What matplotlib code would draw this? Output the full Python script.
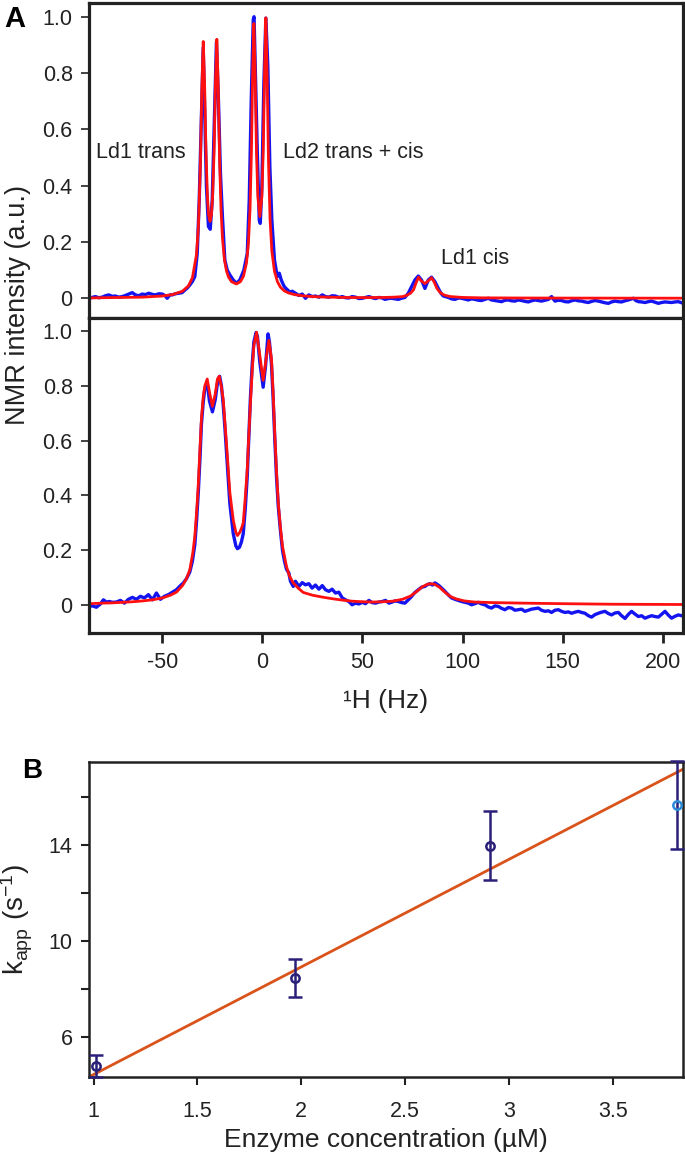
import matplotlib
matplotlib.use('Agg')
import matplotlib.pyplot as plt

plt.rcParams['font.family'] = ['Liberation Sans', 'DejaVu Sans']
plt.rcParams['mathtext.fontset'] = 'custom'
plt.rcParams['mathtext.rm'] = 'Liberation Sans'
plt.rcParams['mathtext.it'] = 'Liberation Sans:italic'

# ---- panel A, top spectrum (observed = blue, fit = red) ----
top_obs_x = [-86.8, -85.2, -83.5, -81.8, -80.1, -78.5, -76.8, -75.1, -73.5, -71.8, -70.1, -68.5,
             -66.8, -65.1, -63.5, -61.8, -60.1, -58.5, -56.8, -55.1, -53.5, -51.8, -50.1, -48.8,
             -47.6, -46.3, -45.1, -43.5, -41.8, -40.2, -38.8, -37.5, -36.3, -35.0, -33.8, -32.6,
             -31.6, -30.5, -29.6, -28.8, -28.0, -27.0, -26.1, -25.1, -24.1, -23.0, -22.0, -21.0,
             -20.0, -18.8, -17.6, -16.3, -14.6, -13.0, -11.3, -9.3, -7.6, -6.6, -5.6, -4.6, -4.2,
             -3.8, -2.6, -1.6, -1.1, -0.3, 0.7, 1.7, 2.7, 3.7, 4.7, 6.0, 7.4, 8.4, 9.4, 10.5,
             11.3, 12.5, 13.7, 14.9, 16.5, 18.2, 19.9, 21.5, 23.2, 24.8, 26.5, 28.2, 29.9, 31.5,
             33.2, 34.8, 36.5, 38.2, 39.9, 41.5, 43.2, 44.8, 46.5, 48.2, 49.9, 51.5, 53.2, 54.8,
             56.5, 58.2, 59.9, 61.2, 62.9, 64.5, 66.2, 67.9, 69.5, 71.2, 72.9, 74.5, 76.2, 77.9,
             79.5, 81.2, 82.9, 84.5, 86.2, 87.9, 89.2, 90.4, 92.9, 94.5, 96.2, 97.9, 99.5, 101.2,
             102.9, 104.5, 106.2, 107.9, 109.5, 111.2, 112.9, 114.5, 116.2, 117.9, 119.5, 121.2,
             122.9, 124.5, 126.2, 127.9, 129.5, 131.2, 132.9, 134.5, 136.2, 137.9, 139.5, 141.2,
             142.9, 144.5, 146.2, 147.9, 149.5, 151.2, 152.9, 154.5, 156.2, 157.9, 159.5, 161.2,
             162.9, 164.5, 166.2, 167.9, 169.5, 171.2, 172.9, 174.5, 176.2, 177.9, 179.5, 181.2,
             182.9, 184.2, 185.4, 186.6, 187.9, 189.5, 191.2, 192.9, 194.5, 196.2, 197.9, 199.5,
             201.2, 202.9, 204.5, 206.2, 207.9, 209.5, 211.2]
top_obs_y = [0.000, 0.003, 0.006, 0.002, 0.004, 0.009, 0.012, 0.007, 0.008, 0.004, 0.006, 0.010,
             0.015, 0.020, 0.012, 0.009, 0.015, 0.013, 0.018, 0.014, 0.012, 0.016, 0.015, 0.010,
             0.000, 0.012, 0.012, 0.016, 0.018, 0.020, 0.029, 0.037, 0.047, 0.060, 0.077, 0.159,
             0.350, 0.645, 0.890, 0.645, 0.396, 0.255, 0.245, 0.350, 0.610, 0.910, 0.704, 0.444,
             0.290, 0.136, 0.100, 0.083, 0.065, 0.053, 0.065, 0.100, 0.159, 0.350, 0.704, 0.990, 1.000,
             0.880, 0.527, 0.278, 0.266, 0.396, 0.763, 0.995, 0.822, 0.467, 0.278, 0.136, 0.077, 0.089, 0.065, 0.047,
             0.038, 0.030, 0.022, 0.025, 0.018, 0.010, 0.015, 0.000, 0.012, 0.006, 0.008, 0.004, 0.012, 0.006,
             0.004, 0.009, 0.008, 0.003, 0.006, 0.002, 0.001, 0.006, 0.004, -0.001, 0.000, 0.003, 0.006, 0.002,
             -0.001, 0.003, 0.001, -0.004, -0.001, 0.000, -0.002, -0.004, 0.000, 0.003, 0.018, 0.041, 0.065, 0.079,
             0.065, 0.035, 0.065, 0.075, 0.059, 0.035, 0.018, 0.008, 0.003, -0.002, -0.004, 0.001, 0.000, -0.003,
             -0.006, -0.002, -0.004, -0.007, -0.008, -0.004, 0.000, -0.006, -0.008, -0.010, -0.012, -0.007,
             -0.006, -0.009, -0.010, -0.006, -0.008, -0.011, -0.013, -0.009, -0.006, -0.008, -0.010, -0.007,
             -0.004, 0.006, -0.010, -0.007, -0.008, -0.012, -0.013, -0.009, -0.006, -0.009, -0.010, -0.013,
             -0.015, -0.011, -0.008, -0.010, -0.013, -0.016, -0.018, -0.013, -0.010, -0.012, -0.013, -0.009,
             -0.006, -0.003, 0.000, -0.008, -0.012, -0.013, -0.015, -0.012, -0.010, -0.014, -0.018, -0.015,
             -0.013, -0.014, -0.015, -0.013, -0.012, -0.016, -0.018]

top_fit_x = [-87, -80, -70, -60, -50, -45, -40, -37, -35, -33, -32, -31, -30.3, -29.6, -28.9,
             -28.2, -27.5, -26.9, -26.2, -25.5, -24.9, -24.2, -23.5, -22.8, -22.1, -21.4, -20.7,
             -20, -19, -18, -17, -15.5, -13, -11, -9.5, -8, -7, -6.2, -5.5, -4.9, -4.3, -3.7, -3,
             -2.3, -1.3, -0.3, 0.4, 1.1, 1.7, 2.3, 3, 3.8, 4.7, 6, 7.5, 9, 11, 13, 16, 20, 25, 30,
             40, 50, 60, 66, 70, 72, 74, 75.5, 76.8, 78, 79.3, 81.2, 83.2, 84.5, 85.8, 87.2, 89,
             91, 94, 100, 110, 130, 160, 211]
top_fit_y = [0.001, 0.002, 0.003, 0.004, 0.008, 0.013, 0.025, 0.044, 0.073, 0.154, 0.257, 0.480,
             0.740, 0.912, 0.755, 0.513, 0.360, 0.296, 0.273, 0.297, 0.363, 0.516, 0.761, 0.920,
             0.746, 0.487, 0.313, 0.214, 0.137, 0.098, 0.076, 0.059, 0.051, 0.059, 0.078, 0.125,
             0.197, 0.318, 0.526, 0.800, 0.976, 0.815, 0.524, 0.360, 0.290, 0.362, 0.529, 0.824,
             0.996, 0.808, 0.492, 0.280, 0.167, 0.096, 0.059, 0.039, 0.026, 0.019, 0.013, 0.009,
             0.006, 0.0045, 0.003, 0.0025, 0.0028, 0.004, 0.006, 0.010, 0.018, 0.030, 0.055, 0.075,
             0.062, 0.052, 0.064, 0.073, 0.058, 0.035, 0.019, 0.011, 0.006, 0.003, 0.0015, 0.001,
             0.0006, 0.0003]

# ---- panel A, bottom spectrum ----
bot_obs_x = [-86.8, -85, -83, -81, -79.5, -78, -76.5, -75, -73, -71, -69, -67, -65, -63, -61, -59,
             -57, -55, -53, -51, -49, -47, -45, -43, -41, -39.5, -38, -36.3, -35, -33.8, -32.9, -32,
             -31.2, -30.5, -29.6, -28.8, -27.6, -26.5, -25, -23.6, -22.3, -21.4, -20.5, -19.6, -18.7,
             -17.9, -16.3, -14.6, -13.3, -12.5, -11.5, -10.5, -9.6, -8.6, -7.6, -6.8, -6, -5.1, -4.3,
             -3.2, -2.5, -1.3, 0.35, 1.5, 2.8, 3.5, 4.5, 5.3, 6.2, 7, 7.9, 9, 10, 11, 12, 13.2, 14,
             15.4, 16.5, 18.2, 19.9, 21.5, 23.2, 24.8, 26.5, 28.2, 29.9, 31.5, 33.2, 34.8, 36.5, 38.2,
             39.9, 41.5, 43.2, 44.8, 46.5, 48.2, 49.9, 51.5, 53.2, 54.8, 56.5, 58.2, 59.9, 61.5, 63.2,
             64.5, 66.2, 67.9, 69.5, 71.2, 72.9, 74.5, 76.2, 77.9, 79.5, 81.2, 82.5, 83.7, 85, 86.2,
             87.5, 88.7, 90.4, 92, 93.2, 94.5, 96.2, 97.9, 99.5, 101.2, 102.9, 104.5, 106.2, 107.9,
             109.5, 111.2, 112.9, 114.5, 116.2, 117.9, 119.5, 121.2, 122.9, 124.5, 126.2, 127.9,
             129.5, 131.2, 132.9, 134.5, 136.2, 137.9, 139.5, 141.2, 142.9, 144.5, 146.2, 147.9,
             149.5, 151.2, 152.9, 154.5, 156.2, 157.9, 159.5, 161.2, 162.9, 164.5, 166.2, 167.9,
             169.5, 171.2, 172.9, 174.5, 176.2, 177.9, 179.5, 181.2, 182.9, 184.5, 186.2, 187.9,
             189.5, 191.2, 192.9, 194.5, 196.2, 197.9, 199.5, 201.2, 202.9, 204.5, 206.2, 207.9,
             209.5, 211.2]
bot_obs_y = [-0.006, -0.004, -0.009, 0.003, 0.018, 0.010, 0.012, 0.009, 0.010, 0.016, 0.006, 0.020,
             0.027, 0.020, 0.031, 0.025, 0.037, 0.018, 0.043, 0.020, 0.031, 0.037, 0.046, 0.055,
             0.070, 0.080, 0.095, 0.120, 0.160, 0.220, 0.310, 0.420, 0.540, 0.660, 0.740, 0.790,
             0.810, 0.745, 0.705, 0.750, 0.820, 0.835, 0.800, 0.730, 0.640, 0.550, 0.370, 0.260,
             0.215, 0.205, 0.210, 0.230, 0.260, 0.350, 0.470, 0.620, 0.760, 0.880, 0.960, 0.995,
             0.980, 0.885, 0.795, 0.870, 0.990, 0.960, 0.880, 0.760, 0.600, 0.470, 0.360, 0.270,
             0.200, 0.160, 0.130, 0.116, 0.086, 0.067, 0.086, 0.067, 0.081, 0.073, 0.077, 0.061,
             0.072, 0.057, 0.070, 0.055, 0.049, 0.057, 0.043, 0.046, 0.025, 0.018, 0.012, 0.000,
             0.006, 0.003, 0.009, 0.004, 0.016, 0.008, 0.006, 0.010, 0.012, 0.016, 0.006, 0.009,
             0.014, 0.012, 0.008, 0.006, 0.018, 0.030, 0.045, 0.055, 0.064, 0.067, 0.074, 0.077,
             0.072, 0.080, 0.074, 0.067, 0.055, 0.043, 0.034, 0.025, 0.020, 0.016, 0.012, 0.009,
             0.006, 0.000, 0.004, 0.009, 0.003, 0.000, -0.008, -0.012, -0.004, -0.006, -0.013,
             -0.018, -0.010, -0.012, -0.020, -0.018, -0.016, -0.024, -0.020, -0.016, -0.014, -0.012,
             -0.020, -0.024, -0.022, -0.028, -0.020, -0.018, -0.024, -0.028, -0.026, -0.031, -0.027,
             -0.024, -0.028, -0.031, -0.040, -0.045, -0.036, -0.031, -0.027, -0.024, -0.032, -0.037,
             -0.030, -0.028, -0.040, -0.050, -0.035, -0.024, -0.034, -0.043, -0.040, -0.049, -0.044,
             -0.040, -0.043, -0.045, -0.035, -0.024, -0.038, -0.049, -0.042, -0.037, -0.040, -0.040]

bot_fit_x = [-86.5, -80, -75, -70, -65, -60, -55, -50, -46, -43, -40, -38, -36.3, -34.8, -33.8,
             -32.9, -32.1, -31.3, -30.5, -29.6, -28.8, -27.6, -26.3, -25, -23.6, -22.5, -21.6,
             -20.6, -19.6, -18.7, -17.9, -16.3, -14.6, -13.3, -12.5, -11.3, -10.2, -9.6, -8.6,
             -7.6, -6.8, -6, -5.1, -4.3, -2.95, -1.3, 0.35, 2.05, 3.2, 4.5, 5.3, 6.2, 7, 7.9, 9,
             10, 12, 13.5, 15.4, 18, 20.4, 25, 30, 35, 40, 45, 50, 55, 60, 65, 70, 74, 77, 80,
             82.5, 84, 86, 88.5, 91, 94, 97, 101, 106, 115, 130, 150, 175, 211]
bot_fit_y = [0.004, 0.006, 0.007, 0.009, 0.011, 0.014, 0.018, 0.025, 0.035, 0.046, 0.070, 0.095,
             0.128, 0.190, 0.250, 0.340, 0.434, 0.560, 0.680, 0.760, 0.800, 0.825, 0.770, 0.725,
             0.770, 0.825, 0.835, 0.800, 0.750, 0.660, 0.580, 0.410, 0.310, 0.265, 0.253, 0.265,
             0.285, 0.300, 0.390, 0.495, 0.620, 0.740, 0.860, 0.947, 0.996, 0.910, 0.820, 0.910,
             0.966, 0.900, 0.780, 0.617, 0.490, 0.373, 0.280, 0.214, 0.140, 0.105, 0.080, 0.060,
             0.045, 0.035, 0.028, 0.022, 0.017, 0.013, 0.011, 0.010, 0.011, 0.013, 0.020, 0.032,
             0.048, 0.066, 0.075, 0.077, 0.075, 0.064, 0.047, 0.030, 0.021, 0.014, 0.010, 0.008,
             0.006, 0.004, 0.002, 0.001]

# ---- panel B ----
conc = [1.01, 1.97, 2.91, 3.81]
k_app = [4.78, 8.45, 13.97, 15.65]
k_err = [0.45, 0.80, 1.43, 1.83]
fit_conc = [0.98, 3.835]
fit_k = [4.33, 17.15]

BLUE = '#1414f0'
RED = '#ff1010'
NAVY = '#2b2079'
LIGHT = '#2a8ad6'
ORANGE = '#d9531a'
SPINE = '#222222'

fig = plt.figure(figsize=(6.85, 11.58), dpi=100)
L, R = 0.1305, 0.9965
ax_top = fig.add_axes([L, 0.7254, R - L, 0.997 - 0.7254])
ax_bot = fig.add_axes([L, 0.4534, R - L, 0.7254 - 0.4534])
ax_b = fig.add_axes([L, 0.0700, R - L, 0.3420 - 0.0700])

for ax, ox, oy, fx, fy, ylim in [
        (ax_top, top_obs_x, top_obs_y, top_fit_x, top_fit_y, (-0.07, 1.047)),
        (ax_bot, bot_obs_x, bot_obs_y, bot_fit_x, bot_fit_y, (-0.103, 1.048))]:
    ax.plot(ox, oy, color=BLUE, lw=2.4, solid_joinstyle='round')
    ax.plot(fx, fy, color=RED, lw=2.0, solid_joinstyle='round')
    ax.set_xlim(-86.5, 210)
    ax.set_ylim(*ylim)
    ax.set_yticks([0, 0.2, 0.4, 0.6, 0.8, 1.0])
    ax.set_yticklabels(['0', '0.2', '0.4', '0.6', '0.8', '1.0'])
    for s in ax.spines.values():
        s.set_linewidth(2.3)
        s.set_color(SPINE)
    ax.tick_params(axis='y', direction='out', length=6, width=1.2, color=SPINE,
                   labelsize=15.5, pad=6, labelcolor='#222222')

ax_top.tick_params(axis='x', bottom=False, labelbottom=False)
ax_bot.set_xticks([-50, 0, 50, 100, 150, 200])
ax_bot.set_xticklabels(['-50', '0', '50', '100', '150', '200'])
ax_bot.tick_params(axis='x', direction='out', length=7, width=2.0, color=SPINE,
                   labelsize=15.5, pad=7, labelcolor='#222222')
ax_bot.set_xlabel('¹H (Hz)', fontsize=19, labelpad=11, color='#222222')

ax_top.text(-60.8, 0.516, 'Ld1 trans', fontsize=15.5, ha='center', va='center', color='#222222')
ax_top.text(45.4, 0.516, 'Ld2 trans + cis', fontsize=15.5, ha='center', va='center', color='#222222')
ax_top.text(106.5, 0.142, 'Ld1 cis', fontsize=15.5, ha='center', va='center', color='#222222')

fig.text(0.026, 1 - 305 / 1158, 'NMR intensity (a.u.)', rotation=90, fontsize=19.5,
         ha='center', va='center', color='#222222')
fig.text(0.022, 0.984, 'A', fontsize=21, fontweight='bold', ha='center', va='center')

# panel B
ax_b.plot(fit_conc, fit_k, color=ORANGE, lw=2.0, zorder=2)
for i in range(len(conc)):
    last = i == len(conc) - 1
    cap_col = LIGHT if last else NAVY
    _, caps, _ = ax_b.errorbar(conc[i], k_app[i], yerr=k_err[i], fmt='o', ms=6,
                               mfc='none', mec=cap_col, mew=1.8, ecolor=NAVY,
                               elinewidth=1.8, capsize=5, capthick=2.0, zorder=3,
                               clip_on=False)
    for c in caps:
        c.set_color(cap_col)
ax_b.set_xlim(0.98, 3.835)
ax_b.set_ylim(4.32, 17.46)
ax_b.set_yticks([6, 8, 10, 12, 14, 16])
ax_b.set_yticklabels(['6', '', '10', '', '14', ''])
ax_b.set_xticks([1, 1.5, 2, 2.5, 3, 3.5])
ax_b.set_xticklabels(['1', '1.5', '2', '2.5', '3', '3.5'])
for s in ax_b.spines.values():
    s.set_linewidth(1.8)
    s.set_color(SPINE)
ax_b.tick_params(axis='y', direction='out', length=6, width=1.5, color=SPINE,
                 labelsize=15.5, pad=6, labelcolor='#222222')
ax_b.tick_params(axis='x', direction='out', length=6, width=1.5, color=SPINE,
                 labelsize=15.5, pad=11, labelcolor='#222222')
ax_b.set_xlabel('Enzyme concentration (µM)', fontsize=19, labelpad=5, color='#222222')
ax_b.set_ylabel(r'k$_{\mathrm{app}}$ (s$^{\mathrm{-1}}$)', fontsize=20, labelpad=10, color='#222222')
fig.text(0.047, 0.334, 'B', fontsize=20, fontweight='bold', ha='center', va='center')

fig.savefig('out.png', dpi=100)
